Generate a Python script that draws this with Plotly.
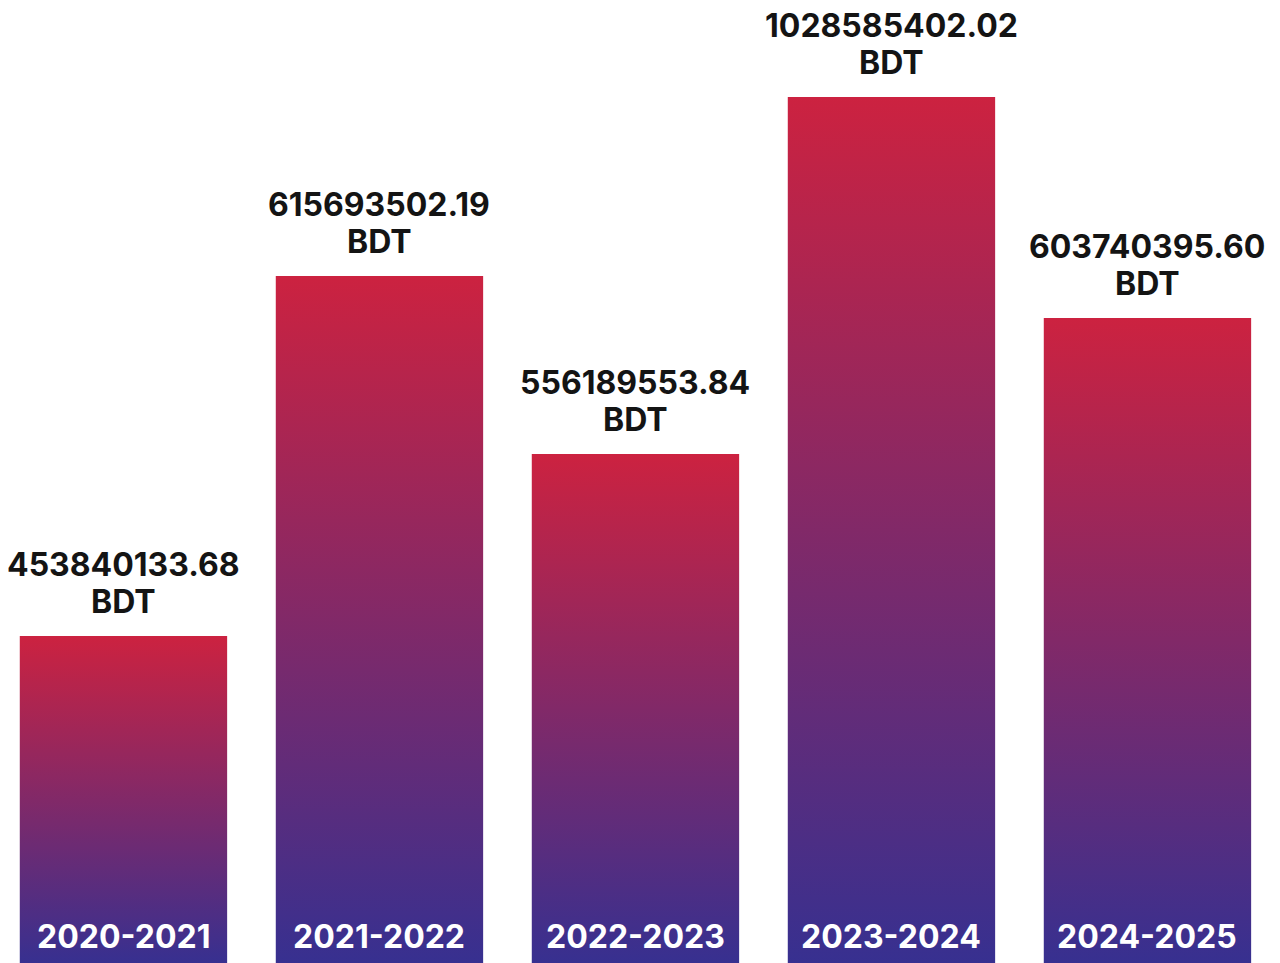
import plotly.graph_objects as go

# Data
categories = ["2020-2021", "2021-2022", "2022-2023", "2023-2024", "2024-2025"]
values = ["453840133.68", "615693502.19", "556189553.84", "1028585402.02", "603740395.60"]
unit = "BDT"
# displayed bar heights (bars in the reference are not drawn to value scale)
bar_heights = [327, 687, 509, 866, 645]

RED = "#cc2240"
BLUE = "#373090"
FONT = "Inter"
BAR_W = 0.81

fig = go.Figure()

for i, (cat, h) in enumerate(zip(categories, bar_heights)):
    x0, x1 = i - BAR_W / 2, i + BAR_W / 2
    fig.add_trace(go.Scatter(
        x=[x0, x1, x1, x0, x0],
        y=[0, 0, h, h, 0],
        mode="lines",
        line=dict(width=0),
        fill="toself",
        fillgradient=dict(type="vertical", colorscale=[[0, BLUE], [1, RED]]),
        hoverinfo="skip",
        showlegend=False,
    ))
    fig.add_annotation(
        x=i, y=h, text=values[i], showarrow=False,
        xanchor="center", yanchor="middle", yshift=71.5,
        font=dict(family=FONT, size=32, color="#141414", weight=700),
    )
    fig.add_annotation(
        x=i, y=h, text=unit, showarrow=False,
        xanchor="center", yanchor="middle", yshift=35,
        font=dict(family=FONT, size=32, color="#141414", weight=700),
    )
    fig.add_annotation(
        x=i, y=0, text=cat, showarrow=False,
        xanchor="center", yanchor="middle", yshift=27,
        font=dict(family=FONT, size=32, color="white", weight=700),
    )

fig.update_layout(
    width=1280, height=963,
    margin=dict(l=0, r=0, t=0, b=0),
    paper_bgcolor="white", plot_bgcolor="white",
    xaxis=dict(range=[-0.451, 4.549], visible=False, fixedrange=True),
    yaxis=dict(range=[-8, 955], visible=False, fixedrange=True),
    showlegend=False,
)

fig.write_html("out.html")
